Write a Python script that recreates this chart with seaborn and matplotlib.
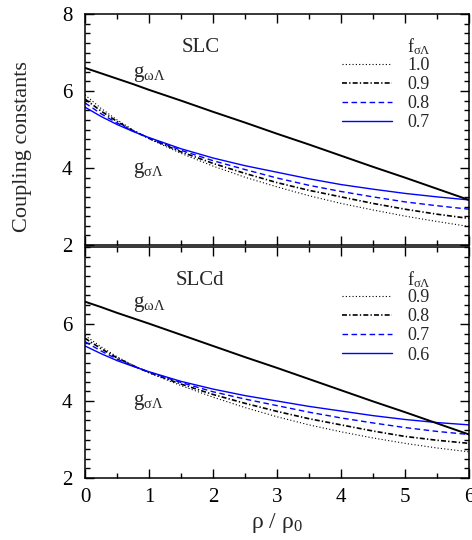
import numpy as np
import pandas as pd
import matplotlib
matplotlib.use("Agg")
import matplotlib.pyplot as plt
import seaborn as sns
from matplotlib.ticker import MultipleLocator

# ---------------- data ----------------
rho = [0, 0.25, 0.5, 0.75, 1, 1.5, 2, 2.5, 3, 3.5, 4, 4.5, 5, 5.5, 6]

# top panel (SLC)
slc_f = ["1.0", "0.9", "0.8", "0.7"]
slc_sigma_10 = [5.90, 5.55, 5.25, 4.99, 4.76, 4.38, 4.05, 3.76, 3.51, 3.28, 3.08, 2.91, 2.75, 2.61, 2.48]
slc_sigma_09 = [5.79, 5.48, 5.21, 4.97, 4.77, 4.42, 4.12, 3.86, 3.62, 3.42, 3.25, 3.08, 2.93, 2.80, 2.69]
slc_sigma_08 = [5.69, 5.41, 5.17, 4.96, 4.78, 4.46, 4.19, 3.96, 3.74, 3.55, 3.39, 3.25, 3.12, 3.02, 2.93]
slc_sigma_07 = [5.58, 5.34, 5.13, 4.95, 4.79, 4.50, 4.26, 4.06, 3.89, 3.72, 3.57, 3.45, 3.34, 3.25, 3.17]
slc_omega = [6.60, 6.46, 6.32, 6.18, 6.03, 5.75, 5.46, 5.18, 4.89, 4.61, 4.32, 4.03, 3.75, 3.46, 3.17]

# bottom panel (SLCd)
slcd_f = ["0.9", "0.8", "0.7", "0.6"]
slcd_sigma_09 = [5.70, 5.41, 5.15, 4.93, 4.73, 4.40, 4.10, 3.83, 3.59, 3.38, 3.20, 3.04, 2.90, 2.78, 2.68]
slcd_sigma_08 = [5.63, 5.36, 5.12, 4.92, 4.74, 4.44, 4.17, 3.94, 3.73, 3.54, 3.38, 3.22, 3.08, 2.98, 2.90]
slcd_sigma_07 = [5.54, 5.30, 5.09, 4.91, 4.75, 4.48, 4.24, 4.05, 3.88, 3.71, 3.56, 3.43, 3.31, 3.21, 3.13]
slcd_sigma_06 = [5.43, 5.23, 5.05, 4.90, 4.76, 4.51, 4.31, 4.14, 4.00, 3.86, 3.74, 3.62, 3.52, 3.44, 3.38]
slcd_omega = [6.58, 6.44, 6.29, 6.15, 6.01, 5.72, 5.43, 5.14, 4.86, 4.57, 4.28, 3.99, 3.71, 3.42, 3.13]

xticks = [0, 1, 2, 3, 4, 5, 6]
yticks_top = [2, 4, 6, 8]
yticks_bot = [2, 4, 6]

# ---------------- style ----------------
sns.set_theme(style="ticks")
plt.rcParams["font.family"] = ["Liberation Serif", "DejaVu Serif"]
plt.rcParams["mathtext.fontset"] = "custom"
plt.rcParams["mathtext.rm"] = "Liberation Serif"
plt.rcParams["mathtext.it"] = "Liberation Serif:italic"
plt.rcParams["mathtext.bf"] = "Liberation Serif:bold"

styles = [
    dict(color="black", lw=0.8, ls=(0, (1, 2))),
    dict(color="black", lw=1.2, ls=(0, (3, 1.3, 0.8, 1.3))),
    dict(color="blue", lw=1.0, ls=(0, (4, 2.5))),
    dict(color="blue", lw=1.0, ls="-"),
]

fig = plt.figure(figsize=(4.72, 5.4), dpi=100)
W, H = 472, 540
ax1 = fig.add_axes([85 / W, 1 - 245 / H, 384 / W, 231 / H])
ax2 = fig.add_axes([85 / W, 1 - 478 / H, 384 / W, 231 / H])

panels = [
    (ax1, "SLC", slc_f, [slc_sigma_10, slc_sigma_09, slc_sigma_08, slc_sigma_07], slc_omega, yticks_top),
    (ax2, "SLCd", slcd_f, [slcd_sigma_09, slcd_sigma_08, slcd_sigma_07, slcd_sigma_06], slcd_omega, yticks_bot),
]

for ax, name, flabels, sigmas, omega, yt in panels:
    handles = []
    for lab, sig, st in zip(flabels, sigmas, styles):
        df = pd.DataFrame({"rho": rho, "g": sig})
        sns.lineplot(data=df, x="rho", y="g", ax=ax, color=st["color"],
                     linewidth=st["lw"], linestyle=st["ls"], label=lab)
        handles.append(ax.get_lines()[-1])
    dfo = pd.DataFrame({"rho": rho, "g": omega})
    sns.lineplot(data=dfo, x="rho", y="g", ax=ax, color="black", linewidth=1.4, label="_omega")

    ax.set_xlim(0, 6)
    ax.set_ylim(2, 8)
    ax.set_xlabel("")
    ax.set_ylabel("")
    ax.xaxis.set_major_locator(MultipleLocator(1))
    ax.xaxis.set_minor_locator(MultipleLocator(0.5))
    ax.yaxis.set_major_locator(MultipleLocator(2))
    ax.yaxis.set_minor_locator(MultipleLocator(0.25))
    ax.set_yticks(yt)
    ax.set_yticklabels([str(v) for v in yt])
    ax.tick_params(which="both", direction="in", top=True, right=True, width=1.0, colors="black")
    ax.tick_params(which="major", length=6.5, labelsize=15)
    ax.tick_params(which="minor", length=3.5)
    ax.tick_params(axis="y", pad=9)
    ax.tick_params(axis="x", pad=7)
    for sp in ax.spines.values():
        sp.set_linewidth(1.1)
        sp.set_color("black")

    leg = ax.legend(handles=handles, labels=flabels, loc="upper left",
                    bbox_to_anchor=(0.669, 0.814 if ax is ax1 else 0.818),
                    frameon=False, fontsize=13, handlelength=2.78,
                    handletextpad=0.83, labelspacing=0.12, borderpad=0,
                    borderaxespad=0)
    ax.text(0.838, 0.86, r"f$_{\mathregular{σΛ}}$", transform=ax.transAxes,
            fontsize=13, ha="left", va="center")

    ax.text(1.80, 7.14 if ax is ax1 else 7.12, name, fontsize=15, ha="center", va="center")
    ax.text(0.75, 6.36 if ax is ax1 else 6.44, r"g$_{\mathregular{ωΛ}}$", fontsize=15, ha="left", va="baseline")
    ax.text(0.75, 3.87 if ax is ax1 else 3.90, r"g$_{\mathregular{σΛ}}$", fontsize=15, ha="left", va="baseline")

ax1.tick_params(axis="x", labelbottom=False)
ax2.set_xticks(xticks)
ax2.set_xticklabels([str(v) for v in xticks])

fig.text(277 / W, 1 - 523 / H, r"ρ / ρ$_{\mathregular{0}}$", fontsize=17, ha="center", va="center")
fig.text(23 / W, 1 - 147 / H, "Coupling constants", fontsize=16, rotation=90, ha="center", va="center")

fig.savefig("out.png", dpi=100)
